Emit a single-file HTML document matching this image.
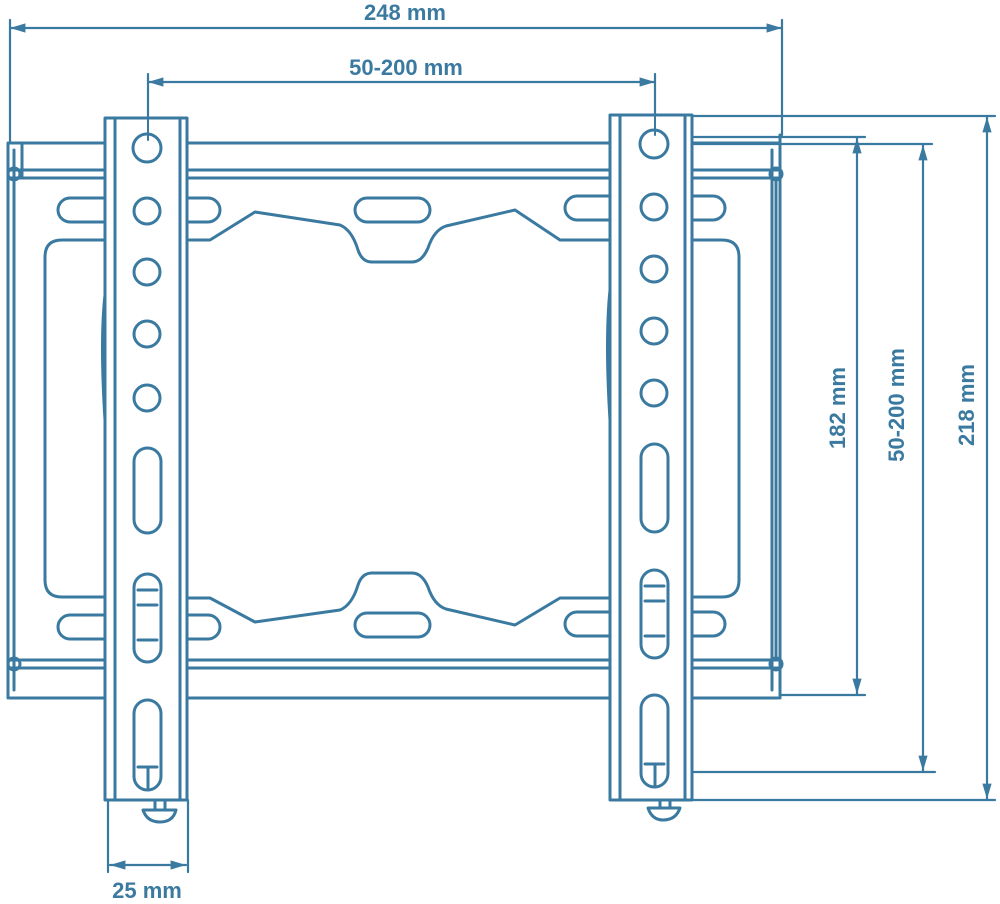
<!DOCTYPE html>
<html><head><style>body{margin:0;background:#fff}svg{display:block}</style></head><body>
<svg width="1000" height="904" viewBox="0 0 1000 904" xmlns="http://www.w3.org/2000/svg">
<defs>
<marker id="a" viewBox="0 0 10 10" refX="10" refY="5" markerWidth="7" markerHeight="7" orient="auto-start-reverse"><path d="M0,2 L10,5 L0,8 Z" fill="#3b7aa0"/></marker>
</defs>
<g fill="none" stroke="#3b7aa0" stroke-width="3" stroke-linecap="round" stroke-linejoin="round">
<line x1="10" y1="28" x2="782" y2="28" marker-start="url(#a)" marker-end="url(#a)" stroke-width="2.2"/>
<line x1="10" y1="20" x2="10" y2="142" stroke-width="2.2"/>
<line x1="782" y1="20" x2="782" y2="135" stroke-width="2.2"/>
<line x1="148" y1="82" x2="655" y2="82" marker-start="url(#a)" marker-end="url(#a)" stroke-width="2.2"/>
<line x1="148" y1="74" x2="148" y2="144" stroke-width="2.2"/>
<line x1="655" y1="74" x2="655" y2="140" stroke-width="2.2"/>
<line x1="692" y1="116" x2="995" y2="116" stroke-width="2.2"/>
<line x1="690" y1="137" x2="865" y2="137" stroke-width="2.2"/>
<line x1="660" y1="144" x2="932" y2="144" stroke-width="2.2"/>
<line x1="780" y1="695" x2="865" y2="695" stroke-width="2.2"/>
<line x1="660" y1="772" x2="935" y2="772" stroke-width="2.2"/>
<line x1="690" y1="800" x2="995" y2="800" stroke-width="2.2"/>
<line x1="857" y1="138" x2="857" y2="694" marker-start="url(#a)" marker-end="url(#a)" stroke-width="2.2"/>
<line x1="923" y1="145" x2="923" y2="771" marker-start="url(#a)" marker-end="url(#a)" stroke-width="2.2"/>
<line x1="987" y1="117" x2="987" y2="799" marker-start="url(#a)" marker-end="url(#a)" stroke-width="2.2"/>
<line x1="108" y1="800" x2="108" y2="872" stroke-width="2.2"/>
<line x1="188" y1="800" x2="188" y2="872" stroke-width="2.2"/>
<line x1="110" y1="865" x2="186" y2="865" marker-start="url(#a)" marker-end="url(#a)" stroke-width="2.2"/>
<path d="M10 143 H105 M187 143 H610 M692 143 H778"/>
<path d="M10 170 H105 M187 170 H610 M692 170 H778"/>
<path d="M10 178 H105 M187 178 H610 M692 178 H778"/>
<path d="M10 660 H105 M187 660 H610 M692 660 H778"/>
<path d="M10 668 H105 M187 668 H610 M692 668 H778"/>
<path d="M10 698 H105 M187 698 H610 M692 698 H778"/>
<path d="M8 143 V698 M14 150 V690 M22 143 V178 M780 135 V698 M772 150 V690 M776 178 V660"/>
<circle cx="14" cy="174" r="6"/><circle cx="14" cy="664" r="6"/>
<circle cx="776" cy="174" r="6"/><circle cx="776" cy="664" r="6"/>
<path d="M105 240 H62 Q45 240 45 257 V580 Q45 597 62 597 H105"/>
<path d="M692 240 H722 Q739 240 739 257 V580 Q739 597 722 597 H692"/>
<path d="M187 240 H210 L255 212 L340 225 Q352 230 358 250 Q362 262 372 262 H412 Q422 262 428 248 Q434 230 446 226 L515 210 L560 240 H610"/>
<path d="M187 598 H210 L255 622 L340 610 Q352 605 358 585 Q362 573 372 573 H412 Q422 573 428 587 Q434 605 446 609 L515 625 L560 598 H610"/>
<rect x="58" y="198" width="60" height="24" rx="12"/>
<rect x="175" y="198" width="45" height="24" rx="12"/>
<rect x="355" y="198" width="75" height="24" rx="12"/>
<rect x="565" y="196" width="60" height="24" rx="12"/>
<rect x="680" y="196" width="45" height="24" rx="12"/>
<rect x="58" y="615" width="60" height="24" rx="12"/>
<rect x="175" y="615" width="45" height="24" rx="12"/>
<rect x="355" y="613" width="75" height="24" rx="12"/>
<rect x="565" y="612" width="60" height="24" rx="12"/>
<rect x="680" y="612" width="45" height="24" rx="12"/>
<rect x="105" y="118" width="82" height="682" fill="#fff"/>
<line x1="115" y1="118" x2="115" y2="800"/><line x1="180" y1="118" x2="180" y2="800"/>
<line x1="148" y1="118" x2="148" y2="140" stroke-width="2"/>
<circle cx="147" cy="148" r="14"/><circle cx="147" cy="211" r="13"/><circle cx="147" cy="272" r="13"/><circle cx="147" cy="334" r="13"/><circle cx="147" cy="398" r="13"/>
<rect x="134" y="448" width="27" height="85" rx="13.5"/>
<rect x="134" y="574" width="27" height="88" rx="13.5"/>
<rect x="134" y="700" width="27" height="90" rx="13.5"/>
<path d="M138 590 H157 M138 605 H157 M138 640 H157 M138 767 H157 M148 767 V788"/>
<path d="M143 810 Q147 822 160 822 Q173 822 176 810 Z M155 800 V810 M165 800 V810"/>
<rect x="610" y="115" width="82" height="685" fill="#fff"/>
<line x1="620" y1="115" x2="620" y2="800"/><line x1="685" y1="115" x2="685" y2="800"/>
<line x1="655" y1="115" x2="655" y2="135" stroke-width="2"/>
<circle cx="654" cy="144" r="14"/><circle cx="654" cy="207" r="13"/><circle cx="654" cy="269" r="13"/><circle cx="654" cy="331" r="13"/><circle cx="654" cy="393" r="13"/>
<rect x="641" y="444" width="27" height="88" rx="13.5"/>
<rect x="641" y="570" width="27" height="88" rx="13.5"/>
<rect x="641" y="695" width="27" height="92" rx="13.5"/>
<path d="M645 586 H664 M645 601 H664 M645 636 H664 M645 764 H664 M655 764 V785"/>
<path d="M648 808 Q652 820 663 820 Q676 820 680 808 Z M660 800 V808 M670 800 V808"/>
<path d="M105 295 Q100 340 105 420 M610 290 Q605 340 610 420 M105 765 V795 M610 765 V795"/>
</g>
<g fill="#3b7aa0" font-family="Liberation Sans, sans-serif" font-weight="bold" font-size="22" text-anchor="middle">
<text x="405" y="20">248 mm</text>
<text x="406" y="75">50-200 mm</text>
<text x="147" y="898">25 mm</text>
<text transform="translate(845,408) rotate(-90)">182 mm</text>
<text transform="translate(904,405) rotate(-90)">50-200 mm</text>
<text transform="translate(974,405) rotate(-90)">218 mm</text>
</g>
</svg>
</body></html>
